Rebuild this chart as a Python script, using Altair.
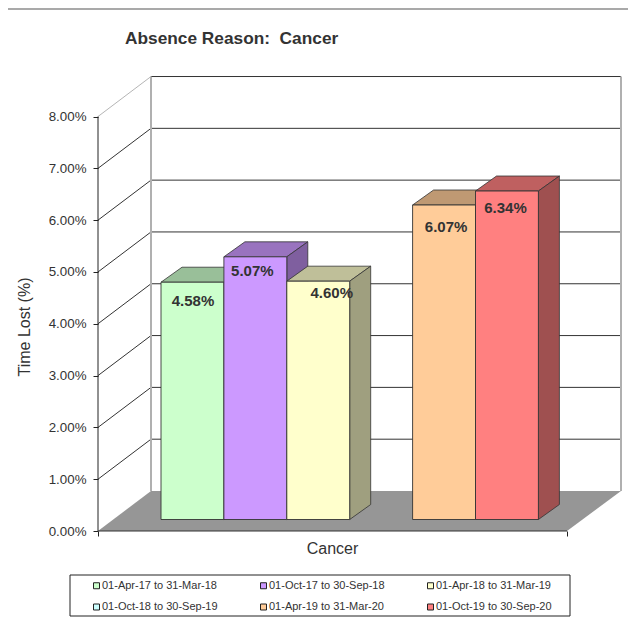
import altair as alt
import pandas as pd

periods = ["01-Apr-17 to 31-Mar-18", "01-Oct-17 to 30-Sep-18", "01-Apr-18 to 31-Mar-19",
           "01-Oct-18 to 30-Sep-19", "01-Apr-19 to 31-Mar-20", "01-Oct-19 to 30-Sep-20"]
values = [4.58, 5.07, 4.60, None, 6.07, 6.34]
front_colors = ["#CCFFCC", "#CC99FF", "#FFFFCC", "#CCFFFF", "#FFCC99", "#FF8080"]
top_colors = ["#99BF99", "#9973BF", "#BFBF99", "#99BFBF", "#BF9973", "#BF6060"]
side_colors = ["#7F9F7F", "#7F5F9F", "#9F9F7F", "#7F9F9F", "#9F7F5F", "#9F5050"]
ticks = [0, 1, 2, 3, 4, 5, 6, 7, 8]
label_nudge_x = [0.5, -3, 13.5, 0, 2, -1.5]
label_nudge_y = [-0.36, -0.28, -0.22, 0, -0.42, -0.33]
legend_order = [0, 3, 1, 4, 2, 5]   # the legend fills column by column

FONT = "Liberation Sans"
TXT = "#333333"
PCT = 51.81                # pixels per percentage point
H, W = 455, 523
FRONT = 469                # front floor width, chart units
WALL_X, WALL_Y = 53, 40 / PCT
BAR_X0, BAR_W = 63, 62.9
BAR_DX, BAR_DY = 21, 15 / PCT
BAR_BASE = 11.5 / PCT

xs = alt.Scale(domain=[0, W], nice=False, zero=False)
ys = alt.Scale(domain=[0, H / PCT], nice=False, zero=False)
x_axis = alt.Axis(values=[0, FRONT], labels=False, grid=False, domain=False, tickSize=5, tickColor="#222222",
                  title="Cancer", titleFont=FONT, titleFontSize=16, titleFontWeight="normal", titleColor=TXT,
                  titleX=234, titleY=9)
y_axis = alt.Axis(values=ticks, labelExpr="format(datum.value,'.2f')+'%'", grid=False, domain=False, tickSize=5,
                  tickColor="#222222", labelFont=FONT, labelFontSize=13.33, labelColor=TXT, labelPadding=7,
                  title="Time Lost (%)", titleFont=FONT, titleFontSize=16, titleFontWeight="normal", titleColor=TXT,
                  titleX=-66, titleY=250.5, titleAngle=-90)
X = lambda f="x": alt.X(f, type="quantitative", scale=xs, axis=x_axis)
Y = lambda f="y": alt.Y(f, type="quantitative", scale=ys, axis=y_axis, stack=None)

def rules(rows, color, width):
    df = pd.DataFrame(rows, columns=["x", "x2", "y", "y2"])
    return alt.Chart(df).mark_rule(color=color, strokeWidth=width).encode(
        x=X(), x2="x2:Q", y=Y(), y2="y2:Q")

layers = []

# floor
floor = pd.DataFrame({"y": [0, WALL_Y], "x": [0, WALL_X], "x2": [FRONT, W]})
layers.append(alt.Chart(floor).mark_area(orient="horizontal", color="#969696").encode(
    y=Y(), x=X(), x2="x2:Q"))

# gridlines on the walls
grid_rows = [v for v in ticks if v > 0]
layers.append(rules([[0, WALL_X, v, v + WALL_Y] for v in grid_rows[:-1]], "#333333", 1))
layers.append(rules([[WALL_X, W, v + WALL_Y, v + WALL_Y] for v in grid_rows], "#333333", 1))
layers.append(rules([[0, WALL_X, 8, 8 + WALL_Y]], "#B5B5B5", 1))
layers.append(rules([[WALL_X, WALL_X, WALL_Y, 8 + WALL_Y], [W, W, WALL_Y, 8 + WALL_Y]], "#B0B0B0", 2))

# axis lines
layers.append(rules([[0, 0, 0, 8]], "#222222", 1))
layers.append(rules([[0, FRONT, 0, 0]], "#333333", 1.2))

# legend box, beneath the legend
layers.append(alt.Chart(pd.DataFrame({"a": [0]})).mark_rect(fill="white", stroke="#222222", strokeWidth=1).encode(
    x=alt.value(-28), x2=alt.value(472), y=alt.value(499), y2=alt.value(540)))

# bars, left to right so each overlaps the one before
first = True
for i, v in enumerate(values):
    if v is None:
        continue
    l = BAR_X0 + i * BAR_W
    r = l + BAR_W
    b = BAR_BASE
    t = v + BAR_BASE
    top = pd.DataFrame({"y": [t, t + BAR_DY], "x": [l, l + BAR_DX], "x2": [r, r + BAR_DX]})
    side = pd.DataFrame({"x": [r, r + BAR_DX], "y": [b, b + BAR_DY], "y2": [t, t + BAR_DY]})
    front = pd.DataFrame({"x": [l], "x2": [r], "y": [b], "y2": [t], "period": [periods[i]]})
    layers.append(alt.Chart(top).mark_area(orient="horizontal", color=top_colors[i], stroke="#333333",
                                           strokeWidth=0.8).encode(y=Y(), x=X(), x2="x2:Q"))
    layers.append(alt.Chart(side).mark_area(color=side_colors[i], stroke="#333333",
                                            strokeWidth=0.8).encode(x=X(), y=Y(), y2="y2:Q"))
    legend = alt.Legend(title=None, orient="none", legendX=-7, legendY=504, columns=3, columnPadding=40,
                        rowPadding=9.5, symbolType="square", symbolSize=36, symbolStrokeColor="#222222",
                        symbolStrokeWidth=1, symbolOpacity=1, labelFont=FONT, labelFontSize=11, labelColor=TXT,
                        labelOffset=0, padding=0, labelLimit=0) if first else None
    layers.append(alt.Chart(front).mark_rect(stroke="#333333", strokeWidth=0.9, opacity=1).encode(
        x=X(), x2="x2:Q", y=Y(), y2="y2:Q",
        color=alt.Color("period:N", sort=None, legend=legend, scale=alt.Scale(
            domain=[periods[k] for k in legend_order], range=[front_colors[k] for k in legend_order]))))
    first = False

# value labels
lab = pd.DataFrame([
    {"x": BAR_X0 + (i + 0.5) * BAR_W + label_nudge_x[i], "y": v + BAR_BASE + label_nudge_y[i], "t": f"{v:.2f}%"}
    for i, v in enumerate(values) if v is not None])
layers.append(alt.Chart(lab).mark_text(font=FONT, fontSize=15, fontWeight="bold", color=TXT).encode(
    x=X(), y=Y(), text="t:N"))

# chart title and the rule across the very top of the page
layers.append(alt.Chart(pd.DataFrame({"a": [0]})).mark_text(
    text="Absence Reason:\u00a0 Cancer", font=FONT, fontSize=17.3, fontWeight="bold", color=TXT, align="left",
    baseline="middle").encode(x=alt.value(27), y=alt.value(-37)))
layers.append(alt.Chart(pd.DataFrame({"a": [0]})).mark_rule(color="#555555", strokeWidth=1.2).encode(
    x=alt.value(-90), x2=alt.value(W + 7), y=alt.value(-67)))

chart = alt.layer(*layers).properties(
    width=W, height=H,
    autosize=alt.AutoSizeParams(type="none"),
    padding={"left": 90, "top": 68, "right": 7, "bottom": 86},
).configure_view(stroke=None)

chart.save("out.html", embed_options={"renderer": "svg", "actions": False})
